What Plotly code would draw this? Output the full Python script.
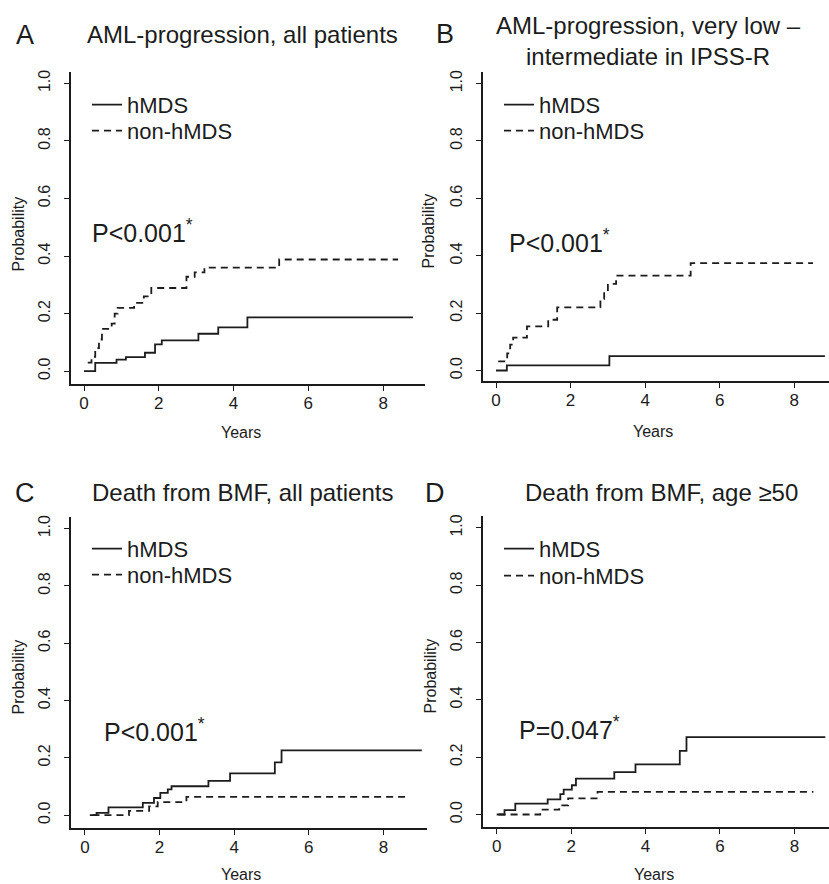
import plotly.graph_objects as go

# ---------------- data ----------------
A_hmds_x = [0.0, 0.30, 0.87, 1.12, 1.63, 1.90, 2.08, 3.06, 3.59, 4.37, 8.80]
A_hmds_y = [0.0, 0.029, 0.040, 0.049, 0.064, 0.093, 0.107, 0.130, 0.152, 0.187, 0.187]
A_non_x = [0.10, 0.20, 0.30, 0.40, 0.48, 0.74, 0.82, 0.90, 1.34, 1.60, 1.80, 2.74, 2.96, 3.22, 5.22, 8.40]
A_non_y = [0.030, 0.050, 0.080, 0.110, 0.147, 0.165, 0.200, 0.220, 0.237, 0.260, 0.289, 0.328, 0.343, 0.360, 0.388, 0.388]

B_hmds_x = [0.0, 0.29, 3.04, 8.82]
B_hmds_y = [0.0, 0.018, 0.050, 0.050]
B_non_x = [0.06, 0.30, 0.38, 0.46, 0.83, 1.40, 1.64, 2.80, 2.90, 3.00, 3.22, 5.22, 8.50]
B_non_y = [0.032, 0.060, 0.090, 0.115, 0.154, 0.177, 0.220, 0.250, 0.276, 0.302, 0.331, 0.374, 0.374]

C_hmds_x = [0.13, 0.31, 0.63, 1.55, 1.85, 2.02, 2.22, 2.32, 3.31, 3.89, 5.09, 5.27, 9.03]
C_hmds_y = [0.0, 0.008, 0.027, 0.043, 0.060, 0.078, 0.090, 0.101, 0.120, 0.146, 0.184, 0.226, 0.226]
C_non_x = [0.20, 1.18, 1.72, 1.95, 2.72, 8.58]
C_non_y = [0.0, 0.015, 0.031, 0.046, 0.064, 0.064]

D_hmds_x = [0.0, 0.21, 0.50, 1.37, 1.71, 1.80, 2.02, 2.13, 3.16, 3.73, 4.92, 5.10, 8.83]
D_hmds_y = [0.0, 0.015, 0.038, 0.053, 0.071, 0.087, 0.102, 0.125, 0.148, 0.175, 0.222, 0.270, 0.270]
D_non_x = [0.05, 1.17, 1.68, 1.92, 2.71, 8.51]
D_non_y = [0.0, 0.017, 0.032, 0.056, 0.079, 0.079]

series_names = ["hMDS", "non-hMDS"]
panel_letters = ["A", "B", "C", "D"]
panel_titles = [
    "AML-progression, all patients",
    "AML-progression, very low –<br>intermediate in IPSS-R",
    "Death from BMF, all patients",
    "Death from BMF, age ≥50",
]
p_values = ["P<0.001", "P<0.001", "P<0.001", "P=0.047"]
y_ticks = [0.0, 0.2, 0.4, 0.6, 0.8, 1.0]
x_ticks = [0, 2, 4, 6, 8]
x_label = "Years"
y_label = "Probability"

# ---------------- layout geometry ----------------
W, H = 829, 884
FONT = "Liberation Sans, Arial, sans-serif"
INK = "#1c1c1c"

def px_x(p):
    return p / W

def px_y(p):
    return 1 - p / H

panels = [
    dict(data=(A_hmds_x, A_hmds_y, A_non_x, A_non_y),
         xdom=(70.7, 425), ydom=(383, 70), xr=(-0.356, 9.12), yr=(-0.045, 1.040),
         letter=(25, 33), title=(242, 33), ylab=(18, 233), xlab=(241, 431), pv=(90, 230),
         leg_x=87, leg_rows=(102, 128)),
    dict(data=(B_hmds_x, B_hmds_y, B_non_x, B_non_y),
         xdom=(482.7, 829), ydom=(380, 70), xr=(-0.357, 8.93), yr=(-0.037, 1.041),
         letter=(445, 32), title=(648, 39), ylab=(428, 230), xlab=(653, 430), pv=(507, 240),
         leg_x=499, leg_rows=(102, 128)),
    dict(data=(C_hmds_x, C_hmds_y, C_non_x, C_non_y),
         xdom=(71, 427), ydom=(827.7, 516), xr=(-0.375, 9.17), yr=(-0.044, 1.041),
         letter=(25, 492), title=(242, 492), ylab=(18, 677), xlab=(241, 874), pv=(102, 730),
         leg_x=87, leg_rows=(547, 573)),
    dict(data=(D_hmds_x, D_hmds_y, D_non_x, D_non_y),
         xdom=(482.7, 829), ydom=(826.7, 515), xr=(-0.376, 8.93), yr=(-0.043, 1.042),
         letter=(435, 492), title=(661, 492), ylab=(430, 676), xlab=(654, 874), pv=(517, 728),
         leg_x=499, leg_rows=(547, 574)),
]

fig = go.Figure()
annotations = []
layout_updates = {}
leg_count = 0

for i, p in enumerate(panels):
    k = "" if i == 0 else str(i + 1)
    xa, ya = "x" + k, "y" + k
    hx, hy, nx, ny = p["data"]
    styles = [dict(color=INK, width=1.8, shape="hv"),
              dict(color=INK, width=1.8, shape="hv", dash="7px,5px")]
    for j, (sx, sy) in enumerate([(hx, hy), (nx, ny)]):
        leg_count += 1
        lk = "legend" if leg_count == 1 else "legend" + str(leg_count)
        fig.add_trace(go.Scatter(x=sx, y=sy, mode="lines", name=series_names[j],
                                 line=styles[j], xaxis=xa, yaxis=ya, legend=lk,
                                 showlegend=True, hoverinfo="skip"))
        layout_updates[lk] = dict(
            x=px_x(p["leg_x"]), y=px_y(p["leg_rows"][j] - 20), xanchor="left", yanchor="top",
            bgcolor="rgba(0,0,0,0)", borderwidth=0, visible=True,
            font=dict(family=FONT, size=22, color=INK), itemwidth=30)

    layout_updates["xaxis" + k] = dict(
        domain=[px_x(p["xdom"][0]), px_x(p["xdom"][1])], range=list(p["xr"]),
        anchor=ya, tickmode="array", tickvals=x_ticks, ticktext=[str(t) for t in x_ticks],
        ticks="outside", ticklen=5, tickwidth=1.3, tickcolor=INK,
        showline=True, linecolor=INK, linewidth=1.6, showgrid=False, zeroline=False,
        tickfont=dict(family=FONT, size=17, color=INK), ticklabelstandoff=-2,
        fixedrange=True)
    layout_updates["yaxis" + k] = dict(
        domain=[px_y(p["ydom"][0]), px_y(p["ydom"][1])], range=list(p["yr"]),
        anchor=xa, tickmode="array", tickvals=y_ticks,
        ticktext=["%.1f" % t for t in y_ticks], tickangle=-90,
        ticks="outside", ticklen=5, tickwidth=1.3, tickcolor=INK,
        showline=True, linecolor=INK, linewidth=1.6, showgrid=False, zeroline=False,
        tickfont=dict(family=FONT, size=16, color=INK), ticklabelstandoff=8,
        fixedrange=True)

    annotations += [
        dict(text=panel_letters[i], x=px_x(p["letter"][0]), y=px_y(p["letter"][1]),
             xref="paper", yref="paper", showarrow=False, xanchor="center", yanchor="middle",
             font=dict(family=FONT, size=27, color=INK)),
        dict(text=panel_titles[i], x=px_x(p["title"][0]), y=px_y(p["title"][1]),
             xref="paper", yref="paper", showarrow=False, xanchor="center", yanchor="middle",
             font=dict(family=FONT, size=24, color=INK)),
        dict(text=y_label, x=px_x(p["ylab"][0]), y=px_y(p["ylab"][1]), textangle=-90,
             xref="paper", yref="paper", showarrow=False, xanchor="center", yanchor="middle",
             font=dict(family=FONT, size=16, color=INK)),
        dict(text=x_label, x=px_x(p["xlab"][0]), y=px_y(p["xlab"][1]),
             xref="paper", yref="paper", showarrow=False, xanchor="center", yanchor="middle",
             font=dict(family=FONT, size=16, color=INK)),
        dict(text=p_values[i] + "<sup>*</sup>", x=px_x(p["pv"][0]), y=px_y(p["pv"][1]),
             xref="paper", yref="paper", showarrow=False, xanchor="left", yanchor="middle",
             font=dict(family=FONT, size=25, color=INK)),
    ]

fig.update_layout(
    width=W, height=H, margin=dict(l=0, r=0, t=0, b=0),
    paper_bgcolor="white", plot_bgcolor="white", showlegend=True,
    annotations=annotations, **layout_updates,
)

fig.write_html("out.html")
